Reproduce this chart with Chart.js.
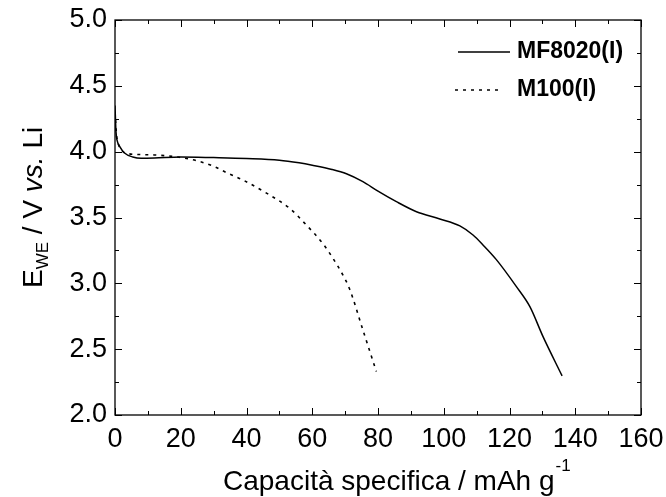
<!DOCTYPE html>
<html>
<head>
<meta charset="utf-8">
<script src="https://cdn.jsdelivr.net/npm/chart.js@4.4.0/dist/chart.umd.min.js"></script>
<style>
  html, body { margin: 0; padding: 0; background: #fff; }
  #wrap { width: 666px; height: 497px; }
</style>
</head>
<body>
<div id="wrap"><canvas id="grafico" width="666" height="497"></canvas></div>
<script>
// Curve di scarica (capacità mAh/g, potenziale V)
const capMF8020 = [0, 0.3, 0.7, 1.4, 2.9, 5.4, 8, 12, 20, 30, 40, 50, 56, 60, 66, 70.4, 75.4, 80, 85.6, 91.7, 98.8, 104.9, 108.9, 112, 116, 122.1, 126.2, 130.2, 136];
const potMF8020 = [4.35, 4.15, 4.08, 4.04, 3.99, 3.96, 3.95, 3.952, 3.96, 3.955, 3.948, 3.935, 3.915, 3.897, 3.865, 3.832, 3.772, 3.70, 3.62, 3.544, 3.489, 3.436, 3.367, 3.29, 3.18, 2.975, 2.823, 2.595, 2.297];

const capM100 = [0, 0.5, 1, 2, 4, 8, 12, 16, 19.6, 25, 29.8, 34, 38.9, 46.5, 53.1, 58.2, 63.3, 66.3, 69.3, 71.4, 75.4, 79.5];
const potM100 = [4.3, 4.12, 4.06, 4.01, 3.985, 3.978, 3.975, 3.968, 3.957, 3.93, 3.891, 3.84, 3.785, 3.679, 3.570, 3.443, 3.30, 3.19, 3.064, 2.955, 2.646, 2.33];

const etichette = ['MF8020(I)', 'M100(I)'];
const tickX = [0, 20, 40, 60, 80, 100, 120, 140, 160];
const tickY = [2.0, 2.5, 3.0, 3.5, 4.0, 4.5, 5.0];

const FONT = '"Liberation Sans", Arial, sans-serif';

function punti(xs, ys) {
    return xs.map((x, i) => ({ x: x, y: ys[i] }));
}

// cornice, tacche interne, legenda e titoli degli assi
const decorazioni = {
    id: 'decorazioni',
    afterDraw(chart) {
        const ctx = chart.ctx;
        const a = chart.chartArea;
        const sx = chart.scales.x, sy = chart.scales.y;
        ctx.save();
        ctx.strokeStyle = '#000';
        ctx.lineWidth = 1.3;
        ctx.strokeRect(a.left, a.top, a.right - a.left, a.bottom - a.top);

        ctx.lineWidth = 1;
        ctx.beginPath();
        for (let v = 0; v <= 160; v += 10) {
            const px = Math.round(sx.getPixelForValue(v)) + 0.5;
            const l = (v % 20 === 0) ? 7 : 4;
            ctx.moveTo(px, a.bottom); ctx.lineTo(px, a.bottom - l);
            ctx.moveTo(px, a.top); ctx.lineTo(px, a.top + l);
        }
        for (let v = 2.0; v <= 5.0001; v += 0.25) {
            const py = Math.round(sy.getPixelForValue(v)) + 0.5;
            const l = (Math.abs(v * 2 - Math.round(v * 2)) < 0.01) ? 7 : 4;
            ctx.moveTo(a.left, py); ctx.lineTo(a.left + l, py);
            ctx.moveTo(a.right, py); ctx.lineTo(a.right - l, py);
        }
        ctx.stroke();

        // legenda
        const righe = [{ y: 52, x0: 458, x1: 510 }, { y: 90, x0: 455, x1: 502 }];
        chart.data.datasets.forEach((ds, i) => {
            const r = righe[i];
            ctx.lineWidth = 1.5;
            ctx.setLineDash(ds.borderDash || []);
            ctx.beginPath();
            ctx.moveTo(r.x0, r.y); ctx.lineTo(r.x1, r.y);
            ctx.stroke();
            ctx.setLineDash([]);
            ctx.fillStyle = '#000';
            ctx.font = 'bold 23px ' + FONT;
            ctx.textBaseline = 'middle';
            ctx.textAlign = 'left';
            ctx.fillText(ds.label, 517, r.y);
        });

        // titolo asse x
        ctx.textBaseline = 'alphabetic';
        ctx.font = '28px ' + FONT;
        let x = 223;
        const testo = 'Capacità specifica / mAh g';
        ctx.fillText(testo, x, 490);
        x += ctx.measureText(testo).width;
        ctx.font = '17px ' + FONT;
        ctx.fillText('-1', x + 1, 471);

        // titolo asse y (ruotato)
        ctx.translate(42, 0);
        ctx.rotate(-Math.PI / 2);
        let y = -288;
        ctx.font = '28px ' + FONT;
        ctx.fillText('E', y, 0);
        y += ctx.measureText('E').width;
        ctx.font = '17px ' + FONT;
        ctx.fillText('WE', y, 6);
        y += ctx.measureText('WE').width;
        ctx.font = '28px ' + FONT;
        ctx.fillText(' / V ', y, 0);
        y += ctx.measureText(' / V ').width;
        ctx.font = 'italic 28px ' + FONT;
        ctx.fillText('vs.', y, 0);
        y += ctx.measureText('vs.').width;
        ctx.font = '28px ' + FONT;
        ctx.fillText(' Li', y, 0);
        ctx.restore();
    }
};

new Chart(document.getElementById('grafico').getContext('2d'), {
    type: 'scatter',
    data: {
        datasets: [
            { label: etichette[0], data: punti(capMF8020, potMF8020), showLine: true, borderColor: '#000', borderWidth: 1.5, pointRadius: 0, cubicInterpolationMode: 'monotone', fill: false },
            { label: etichette[1], data: punti(capM100, potM100), showLine: true, borderColor: '#000', borderWidth: 1.6, borderDash: [3, 5], pointRadius: 0, cubicInterpolationMode: 'monotone', fill: false }
        ]
    },
    options: {
        responsive: false,
        animation: false,
        layout: { padding: { top: 20, right: 25, left: 0, bottom: 0 } },
        plugins: { legend: { display: false }, tooltip: { enabled: false } },
        scales: {
            x: {
                type: 'linear', min: 0, max: 160,
                afterBuildTicks: s => { s.ticks = tickX.map(v => ({ value: v })); },
                afterFit: s => { s.height = 82; s.paddingLeft = 0; s.paddingRight = 0; },
                grid: { display: false, drawTicks: false },
                border: { display: false },
                ticks: { color: '#000', padding: 8, maxRotation: 0, font: { family: FONT, size: 27 } }
            },
            y: {
                type: 'linear', min: 2.0, max: 5.0,
                afterBuildTicks: s => { s.ticks = tickY.map(v => ({ value: v })); },
                afterFit: s => { s.width = 115; s.paddingTop = 0; s.paddingBottom = 0; },
                grid: { display: false, drawTicks: false },
                border: { display: false },
                ticks: { color: '#000', padding: 8, font: { family: FONT, size: 27 }, callback: v => v.toFixed(1) }
            }
        }
    },
    plugins: [decorazioni]
});
</script>
</body>
</html>
